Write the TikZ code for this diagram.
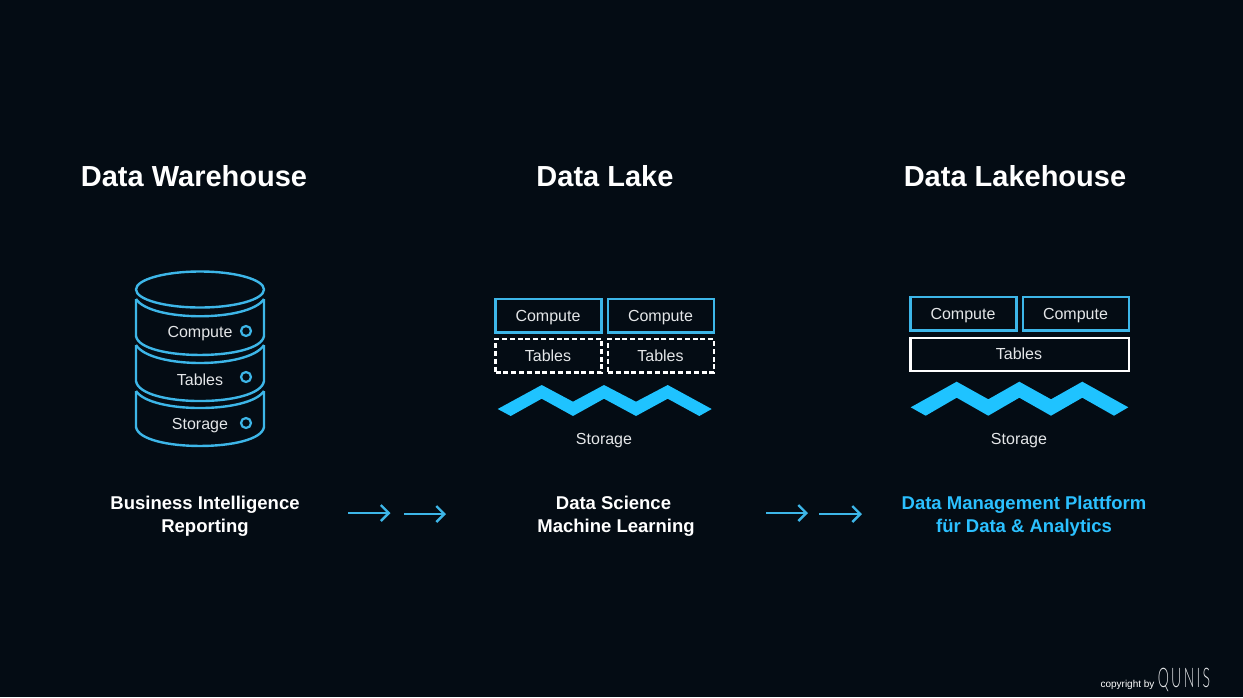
\documentclass[tikz,border=0pt]{standalone}
\usepackage{fontspec}
\setmainfont{Liberation Sans}
\newfontfamily\thinfont{Lato Light}
\usetikzlibrary{arrows.meta}
\definecolor{bgc}{HTML}{040C14}
\definecolor{linec}{HTML}{3DB6E8}
\definecolor{zigc}{HTML}{1FC3FF}
\definecolor{hlc}{HTML}{2BC0FF}
\definecolor{txtc}{HTML}{E4E6E8}
\tikzset{
  txt/.style={anchor=base,inner sep=0pt,outer sep=0pt,text=txtc,font=\fontsize{16}{16}\selectfont},
  title/.style={anchor=base,inner sep=0pt,outer sep=0pt,text=white,font=\fontsize{29}{29}\selectfont\bfseries},
  sublabel/.style={anchor=base,inner sep=0pt,outer sep=0pt,text=white,font=\fontsize{18.5}{18.5}\selectfont\bfseries},
  hllabel/.style={sublabel,text=hlc},
  cyl/.style={draw=linec,line width=2.4pt,line join=round},
  dot/.style={draw=linec,line width=2.2pt,circle,minimum size=10pt,inner sep=0pt,outer sep=0pt},
  compbox/.style={draw=linec,line width=2.4pt,anchor=north west,inner sep=0pt,outer sep=0pt,minimum width=106pt,minimum height=33.5pt},
  tabdash/.style={draw=white,line width=2.2pt,dash pattern=on 5pt off 2.8pt,anchor=north west,inner sep=0pt,outer sep=0pt,minimum width=106pt,minimum height=33.5pt},
  tabsolid/.style={draw=white,line width=2.4pt,anchor=north west,inner sep=0pt,outer sep=0pt,minimum width=218.5pt,minimum height=33.5pt},
  zig/.style={fill=zigc,draw=none},
  flow/.style={draw=linec,line width=2.4pt,-{Straight Barb[length=8pt,width=16pt,line width=2.4pt]}},
}
\newcommand{\cylseg}[4]{%
  \draw[cyl] (136,#1) .. controls (151,#2) and (249,#2) .. (264,#1);
  \draw[cyl] (136,#1) -- (136,#3) .. controls (140,#4) and (260,#4) .. (264,#3) -- (264,#1);
}
\begin{document}
\begin{tikzpicture}[x=1pt,y=-1pt]
\useasboundingbox (0,0) rectangle (1243,697);
\fill[bgc] (0,0) rectangle (1243,697);

% titles
\node[title] (t1) at (194,186) {Data Warehouse};
\node[title] (t2) at (605,186) {Data Lake};
\node[title] (t3) at (1015,186) {Data Lakehouse};

% cylinder
\draw[cyl] (200,289.5) ellipse [x radius=64,y radius=18];
\cylseg{299}{322}{336}{361.3}
\cylseg{345}{369}{381}{407.7}
\cylseg{391}{413.7}{427}{452.3}
\node[txt] (c1) at (200,337.5) {Compute};
\node[txt] (c2) at (200,385) {Tables};
\node[txt] (c3) at (200,429) {Storage};
\node[dot] (d1) at (246,331) {};
\node[dot] (d2) at (246,377) {};
\node[dot] (d3) at (246,423) {};

% data lake
\node[compbox] (l1) at (495.5,299) {};
\node[compbox] (l2) at (608,299) {};
\node[tabdash] (l3) at (495.5,339) {};
\node[tabdash] (l4) at (608,339) {};
\node[txt] (l1t) at (548,321.7) {Compute};
\node[txt] (l2t) at (660.5,321.7) {Compute};
\node[txt] (l3t) at (548,361.5) {Tables};
\node[txt] (l4t) at (660.5,361.5) {Tables};
\fill[zig] (497.7,409) -- (541.7,385) -- (573,401.7) -- (604,385) -- (636,401.7) -- (667.7,385) -- (711.7,409) -- (699.3,416) -- (667.7,398.7) -- (636,416) -- (604,398.7) -- (573,416) -- (541.7,398.7) -- (510.7,416) -- cycle;
\node[txt] (l5t) at (604,444) {Storage};

% lakehouse
\node[compbox] (h1) at (910.5,297) {};
\node[compbox] (h2) at (1023,297) {};
\node[tabsolid] (h3) at (910.5,337.7) {};
\node[txt] (h1t) at (963,319.5) {Compute};
\node[txt] (h2t) at (1075.5,319.5) {Compute};
\node[txt] (h3t) at (1019,359.5) {Tables};
\fill[zig] (910.7,407.3) -- (956.7,381.7) -- (988.3,399.3) -- (1019.3,381.7) -- (1051,399.3) -- (1082.3,381.7) -- (1128.3,407.3) -- (1114,415.7) -- (1082.3,397.7) -- (1051,415.7) -- (1019.3,397.7) -- (988.3,415.7) -- (956.7,397.7) -- (925.7,415.7) -- cycle;
\node[txt] (h5t) at (1019,444) {Storage};

% bottom labels
\node[sublabel] (b1) at (205,509.5) {Business Intelligence};
\node[sublabel] (b2) at (205,532.5) {Reporting};
\node[sublabel] (b3) at (613.5,509.5) {Data Science};
\node[sublabel] (b4) at (616,532.5) {Machine Learning};
\node[hllabel] (b5) at (1024,509.5) {Data Management Plattform};
\node[hllabel] (b6) at (1024,532.5) {für Data \& Analytics};

% arrows
\coordinate (a1s) at (348,513); \coordinate (a1e) at (390.5,513);
\coordinate (a2s) at (404,514); \coordinate (a2e) at (446,514);
\coordinate (a3s) at (766,513); \coordinate (a3e) at (808,513);
\coordinate (a4s) at (819,514); \coordinate (a4e) at (862,514);
\draw[flow] (a1s) -- (a1e);
\draw[flow] (a2s) -- (a2e);
\draw[flow] (a3s) -- (a3e);
\draw[flow] (a4s) -- (a4e);

% copyright
\node[txt,font=\fontsize{10}{10}\selectfont,text=white] (cp) at (1127.5,687) {copyright by};
\node[anchor=base,inner sep=0pt,text=txtc,xscale=.52,font=\thinfont\fontsize{27}{27}\selectfont] (qu) at (1184,687) {Q\,U\,N\,I\,S};
\end{tikzpicture}
\end{document}
